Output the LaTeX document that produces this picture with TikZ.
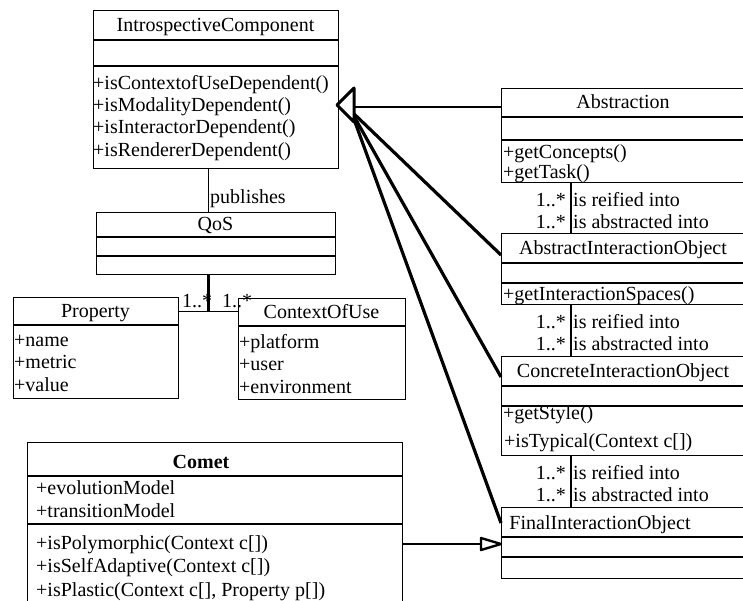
\documentclass[tikz,border=0pt]{standalone}
\usepackage{fontspec}
\setmainfont{Liberation Serif}
\usetikzlibrary{calc}
\begin{document}
\begin{tikzpicture}[x=1pt,y=-1pt,
  txt/.style={inner sep=0pt,font=\fontsize{20}{22}\selectfont,text height=13.5pt,text depth=0pt},
  member/.style={txt,anchor=west},
  title/.style={txt},
  box/.style={draw,line width=1.2pt,anchor=north west,inner sep=0pt},
  sep/.style={line width=1.2pt},
  thicksep/.style={line width=2.6pt},
  link/.style={line width=1.2pt},
  heavy/.style={line width=3.2pt},
]
\useasboundingbox (0,0) rectangle (743,600);
\clip (0,0) rectangle (743,600);

% ---------- IntrospectiveComponent ----------
\node[box,minimum width=245pt,minimum height=158pt] (ic) at (93,10) {};
\draw[sep] (ic.west |- 0,40) -- (ic.east |- 0,40);
\draw[sep] (ic.west |- 0,66) -- (ic.east |- 0,66);
\node[title] (icname) at (215.5,25) {IntrospectiveComponent};
\node[member] (icm1) at (93,83) {+isContextofUseDependent()};
\node[member] (icm2) at (93,105) {+isModalityDependent()};
\node[member] (icm3) at (93,127) {+isInteractorDependent()};
\node[member] (icm4) at (93,150) {+isRendererDependent()};

% ---------- QoS ----------
\node[box,minimum width=239pt,minimum height=62pt] (qos) at (96,212) {};
\draw[sep] (qos.west |- 0,237) -- (qos.east |- 0,237);
\draw[sep] (qos.west |- 0,256) -- (qos.east |- 0,256);
\node[title] (qosname) at (215.5,224) {QoS};

% ---------- Property ----------
\node[box,minimum width=165pt,minimum height=101pt] (prop) at (13,297) {};
\draw[sep] (prop.west |- 0,325) -- (prop.east |- 0,325);
\node[title] (propname) at (95.5,311) {Property};
\node[member] (pa1) at (14,340) {+name};
\node[member] (pa2) at (14,362) {+metric};
\node[member] (pa3) at (14,385) {+value};

% ---------- ContextOfUse ----------
\node[box,minimum width=167pt,minimum height=101pt] (cou) at (238,298) {};
\draw[thicksep] (cou.west |- 0,326) -- (cou.east |- 0,326);
\node[title] (couname) at (321.5,312) {ContextOfUse};
\node[member] (ca1) at (239,342) {+platform};
\node[member] (ca2) at (239,364) {+user};
\node[member] (ca3) at (239,387) {+environment};

% ---------- Abstraction ----------
\node[box,minimum width=245pt,minimum height=94pt] (abs) at (501,88) {};
\draw[sep] (abs.west |- 0,117) -- (abs.east |- 0,117);
\draw[sep] (abs.west |- 0,140) -- (abs.east |- 0,140);
\node[title] (absname) at (623,102) {Abstraction};
\node[member] (am1) at (503,152) {+getConcepts()};
\node[member] (am2) at (503,171.5) {+getTask()};

% ---------- AbstractInteractionObject ----------
\node[box,minimum width=245pt,minimum height=71pt] (aio) at (501,233) {};
\draw[sep] (aio.west |- 0,263) -- (aio.east |- 0,263);
\draw[sep] (aio.west |- 0,283) -- (aio.east |- 0,283);
\node[title] (aioname) at (623,248) {AbstractInteractionObject};
\node[member] (aiom1) at (503,294) {+getInteractionSpaces()};

% ---------- ConcreteInteractionObject ----------
\node[box,minimum width=245pt,minimum height=99pt] (cio) at (501,356) {};
\draw[sep] (cio.west |- 0,386) -- (cio.east |- 0,386);
\draw[sep] (cio.west |- 0,406) -- (cio.east |- 0,406);
\node[title] (cioname) at (623,371) {ConcreteInteractionObject};
\node[member] (ciom1) at (503,413) {+getStyle()};
\node[member] (ciom2) at (504,441) {+isTypical(Context c[])};

% ---------- FinalInteractionObject ----------
\node[box,minimum width=245pt,minimum height=71pt] (fio) at (501,507) {};
\draw[sep] (fio.west |- 0,537) -- (fio.east |- 0,537);
\draw[sep] (fio.west |- 0,557) -- (fio.east |- 0,557);
\node[title] (fioname) at (600,523) {FinalInteractionObject};

% ---------- Comet ----------
\node[box,minimum width=375pt,minimum height=180pt] (comet) at (27,442) {};
\draw[thicksep] (comet.west |- 0,476) -- (comet.east |- 0,476);
\draw[sep] (comet.west |- 0,524) -- (comet.east |- 0,524);
\node[title,font=\fontsize{20}{22}\selectfont\bfseries] (cometname) at (201,462) {Comet};
\node[member] (cat1) at (36,488) {+evolutionModel};
\node[member] (cat2) at (36,511) {+transitionModel};
\node[member] (cm1) at (36,543) {+isPolymorphic(Context c[])};
\node[member] (cm2) at (36,566) {+isSelfAdaptive(Context c[])};
\node[member] (cm3) at (36,590) {+isPlastic(Context c[], Property p[])};

% ---------- IntrospectiveComponent -- QoS ----------
\draw[link] ($(ic.south)+(-7.5,0)$) -- ($(qos.north)+(-7.5,0)$);
\node[member] (publ) at (210,197) {publishes};

% ---------- QoS aggregates Property and ContextOfUse ----------
\coordinate (qosjoin) at ($(qos.south)+(-7.5,36)$);
\draw[heavy] ($(qos.south)+(-7.5,0)$) -- (qosjoin);
\draw[link] (prop.east |- qosjoin) -- (cou.west |- qosjoin);
\node[member] (mp) at (182,301) {1..*};
\node[member] (mc) at (222,301) {1..*};

% ---------- refinement chain ----------
\draw[link] ($(abs.south west)+(70,0)$) -- ($(aio.north west)+(70,0)$);
\node[txt,anchor=east] (m1a) at (566,200) {1..*};
\node[txt,anchor=east] (m1b) at (566,222) {1..*};
\node[member] (r1a) at (573,200) {is reified into};
\node[member] (r1b) at (573,222) {is abstracted into};

\draw[link] ($(aio.south west)+(70,0)$) -- ($(cio.north west)+(70,0)$);
\node[txt,anchor=east] (m2a) at (566,322) {1..*};
\node[txt,anchor=east] (m2b) at (566,344) {1..*};
\node[member] (r2a) at (573,322) {is reified into};
\node[member] (r2b) at (573,344) {is abstracted into};

\draw[link] ($(cio.south west)+(70,0)$) -- ($(fio.north west)+(70,0)$);
\node[txt,anchor=east] (m3a) at (566,473) {1..*};
\node[txt,anchor=east] (m3b) at (566,495) {1..*};
\node[member] (r3a) at (573,473) {is reified into};
\node[member] (r3b) at (573,495) {is abstracted into};

% ---------- generalisation to IntrospectiveComponent ----------
\coordinate (gtip) at (337,105);
\coordinate (gtop) at (354,88);
\coordinate (gbot) at (354,122);
\coordinate (gmid) at (354,107);
\coordinate (gfan) at (351,111);
\draw[link] (abs.west |- gmid) -- (gmid);
\draw[heavy] ($(aio.north west)+(0,22)$) -- (gfan);
\draw[heavy] ($(cio.north west)+(0,21)$) -- (gfan);
\draw[heavy] ($(fio.north west)+(0,16)$) -- (gfan);
\draw[line width=3pt,line join=round,fill=white] (gtip) -- (gtop) -- (gbot) -- cycle;

% ---------- Comet realises FinalInteractionObject ----------
\coordinate (ctip) at ($(fio.north west)+(0,37)$);
\draw[link] (comet.east |- ctip) -- ($(ctip)+(-20,0)$);
\draw[line width=2.4pt,line join=round,fill=white] (ctip) -- ($(ctip)+(-20,-6)$) -- ($(ctip)+(-20,6)$) -- cycle;
\end{tikzpicture}
\end{document}
